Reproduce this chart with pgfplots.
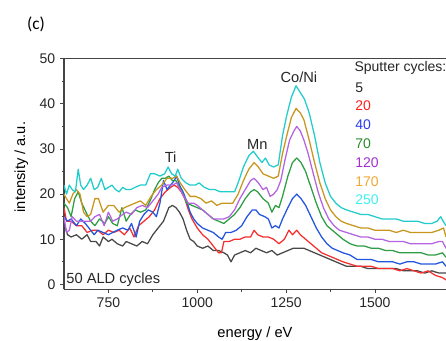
\documentclass[border=0pt]{standalone}
\usepackage{fontspec}
\setmainfont{Liberation Sans}
\newfontfamily\calibri{Carlito}
\usepackage{pgfplots}
\pgfplotsset{compat=1.18}
\definecolor{cK}{HTML}{484848}
\definecolor{cR}{HTML}{F53030}
\definecolor{cB}{HTML}{2255E0}
\definecolor{cG}{HTML}{2E9E44}
\definecolor{cP}{HTML}{B464E0}
\definecolor{cO}{HTML}{C8961E}
\definecolor{cC}{HTML}{22CCCC}
\definecolor{tR}{HTML}{FF2020}
\definecolor{tB}{HTML}{2A3AF0}
\definecolor{tG}{HTML}{2A8A2A}
\definecolor{tP}{HTML}{A030D0}
\definecolor{tO}{HTML}{F0A830}
\definecolor{tC}{HTML}{40F0F0}
\definecolor{axc}{HTML}{444444}
\begin{document}
\begin{tikzpicture}
\path[use as bounding box] (-48pt,-38pt) rectangle (286.5pt,217pt);
\clip (-48pt,-38pt) rectangle (286.5pt,217pt);
\begin{axis}[
  at={(0,0)}, anchor=south west,
  width=286.5pt, height=172.95pt, scale only axis,
  xmin=625, xmax=1700, ymin=-1.1, ymax=50,
  axis x line*=box, axis y line*=left,
  axis line style={axc, line width=0.8pt},
  xtick={750,1000,1250,1500}, minor x tick num=1,
  ytick={0,10,20,30,40,50}, minor y tick num=1,
  xtick pos=left, ytick pos=left,
  tick align=outside,
  major tick length=3pt, minor tick length=1.8pt,
  every tick/.style={axc, line width=0.6pt},
  tick label style={font=\fontsize{10.5}{12}\selectfont, text=black!85},
  /pgf/number format/assume math mode=true,
  /pgf/number format/1000 sep={},
  every axis y label/.style={at={(axis description cs:-0.102,0.53)}, anchor=base, rotate=90, font=\fontsize{11}{13}\selectfont},
  every axis x label/.style={at={(axis description cs:0.5,-0.21)}, anchor=base, font=\fontsize{11}{13}\selectfont},
  xlabel={energy / eV}, ylabel={intensity / a.u.},
  clip=true,
  every axis plot/.append style={line width=0.95pt, line join=round},
]
% 5
\addplot[cK] coordinates {(625,13.5)(635,11)(645,10.5)(660,11)(675,10)(690,11)(700,9.5)(715,9.5)(725,8.5)(735,10.5)(750,9.5)(760,10)(775,9)(790,8.5)(800,9.5)(815,9)(830,8.5)(845,9.5)(860,9)(875,11)(890,12.5)(905,14)(920,17)(930,17.5)(940,17)(950,16)(960,14.5)(970,12)(980,10)(990,9.5)(1000,8.5)(1015,8)(1030,8.5)(1045,7.5)(1060,7.5)(1075,7)(1085,6.5)(1095,5)(1105,6.5)(1120,7)(1135,7.5)(1150,7)(1165,8)(1180,7.5)(1195,7)(1210,7.5)(1225,6.5)(1240,7)(1255,7.5)(1270,8)(1285,8)(1300,8)(1315,7.5)(1330,7)(1345,6.5)(1360,6)(1375,5.5)(1390,5)(1405,4.5)(1420,4)(1440,4)(1460,4)(1480,3.5)(1500,3.5)(1520,3.5)(1540,3.5)(1560,3.5)(1580,3)(1600,3)(1620,3)(1640,2.5)(1660,3)(1680,2.5)(1700,2.5)};
% 20
\addplot[cR] coordinates {(625,17)(632,14)(645,14)(660,13)(675,13)(690,11.5)(705,12)(720,12)(735,11)(750,12)(765,11.5)(780,12)(795,11)(810,12.5)(822,10.5)(835,13)(850,14)(865,15)(880,16.5)(895,19)(910,20.5)(925,21.5)(935,22)(945,21.5)(955,20.5)(965,19)(975,16.5)(985,14.5)(1000,12.5)(1015,11)(1030,10)(1045,8.5)(1060,7)(1068,7)(1075,9.5)(1090,9.5)(1105,10)(1120,10)(1135,10.5)(1150,10.5)(1160,12)(1170,11)(1185,10.5)(1200,10.5)(1215,10)(1230,9)(1245,10)(1258,12)(1268,11)(1280,12)(1290,11)(1305,10)(1320,9)(1335,8)(1350,7)(1365,6.5)(1380,6)(1395,5.5)(1410,5)(1430,4.5)(1450,4)(1470,4)(1490,4)(1510,3.5)(1530,3.5)(1550,3.5)(1570,3)(1590,3.5)(1610,3)(1630,2.5)(1650,3)(1670,2)(1690,1.5)(1700,1)};
% 40
\addplot[cB] coordinates {(625,15)(635,14)(645,14.5)(660,13)(672,14.5)(685,13.5)(700,12)(710,11)(720,12)(735,11.5)(750,11)(762,11.5)(775,12)(790,12.5)(805,12)(815,13.5)(828,10.5)(838,14)(850,15.5)(862,16.5)(875,16)(885,15)(895,18)(905,23)(915,21)(925,22)(935,23)(942,24)(950,22)(960,20.5)(970,18.5)(980,16)(990,14.5)(1000,13.5)(1015,12.5)(1030,12)(1045,11.5)(1060,10.5)(1070,10)(1080,11.5)(1095,11.5)(1110,12)(1125,13)(1140,15)(1155,16.5)(1165,16.5)(1175,15.5)(1190,15)(1200,14.5)(1210,12.5)(1220,13)(1230,12.5)(1240,14.5)(1255,17)(1268,19)(1280,20)(1292,19)(1305,17.5)(1320,15)(1335,12.5)(1350,10.5)(1365,9)(1380,8)(1395,7.5)(1410,7)(1430,6.5)(1450,5.5)(1470,5.5)(1490,5.5)(1510,5)(1530,5)(1550,5)(1570,4.5)(1590,5)(1610,5)(1630,4.5)(1650,4.5)(1670,4.5)(1690,5)(1700,4)};
% 70
\addplot[cG] coordinates {(625,18)(635,17)(645,15)(655,19)(665,20.5)(675,18)(690,15.5)(700,14)(712,13)(725,14.5)(740,13.5)(750,15)(762,13.5)(775,13)(788,17)(800,14)(812,15.5)(825,16.5)(840,16)(855,16.5)(870,19)(880,21)(890,22.5)(900,23.5)(910,23.5)(920,24)(930,23)(940,23)(950,21.5)(960,20)(970,18)(985,17.5)(1000,17)(1015,16.5)(1030,15.5)(1045,14.5)(1060,14)(1075,13.5)(1090,14.5)(1105,15.5)(1120,17)(1135,19)(1150,20.5)(1160,21)(1170,20.5)(1185,19)(1200,18)(1210,16)(1220,17.5)(1230,17)(1240,19.5)(1255,24)(1268,27)(1280,28)(1292,27)(1305,25)(1320,21.5)(1335,18)(1350,15)(1365,13)(1380,12)(1395,11)(1410,10)(1430,9)(1450,8.5)(1470,8.5)(1490,8)(1510,8)(1530,7.5)(1550,7.5)(1570,7)(1590,7)(1610,7)(1630,7)(1650,6.5)(1670,6.5)(1690,7)(1700,6)};
% 120
\addplot[cP] coordinates {(625,15)(632,11.5)(640,12)(648,15)(660,14)(675,14)(690,14)(700,14)(712,15)(725,15.5)(738,13)(750,16)(762,14)(775,14.5)(790,15.5)(800,16)(815,15.5)(830,17)(845,17.5)(860,17)(875,18.5)(890,20)(900,21.5)(915,22)(930,22)(942,22.5)(952,21)(962,19.5)(975,18)(990,18)(1000,17.5)(1015,16.5)(1030,15.5)(1045,14.5)(1060,14.5)(1075,14.5)(1090,15)(1105,16.5)(1120,19)(1135,21)(1150,23)(1160,23.5)(1172,22.5)(1185,21)(1195,21.5)(1205,19.5)(1215,20)(1225,21)(1235,23)(1248,28)(1260,32)(1272,34)(1280,35)(1290,34)(1300,32)(1312,29)(1325,25)(1340,20.5)(1355,17)(1370,14.5)(1385,13)(1400,12)(1420,11.5)(1440,11)(1460,10.5)(1480,10.5)(1500,10)(1520,10)(1540,9.5)(1560,9.5)(1580,9.5)(1600,9)(1620,9)(1640,9)(1660,9)(1680,9.5)(1690,9.5)(1700,8)};
% 170
\addplot[cO] coordinates {(625,20)(632,19)(640,18)(650,20)(660,21)(670,20)(680,16)(690,15)(700,15.5)(712,19)(722,19)(735,16)(750,17.5)(765,17.5)(780,16)(795,17)(810,17.5)(825,18)(840,18.5)(855,17.5)(870,19.5)(885,21)(900,22)(915,23.5)(930,23.5)(942,24)(952,22.5)(965,21)(980,19.5)(995,19.5)(1010,19)(1025,18)(1040,18.5)(1055,17.5)(1070,18)(1085,18)(1100,18)(1115,20)(1130,23)(1145,25.5)(1160,27)(1172,26)(1185,24.5)(1200,24)(1215,23.5)(1228,24)(1240,29)(1252,33)(1265,37)(1278,39)(1290,38)(1300,36.5)(1315,32)(1330,27)(1345,22.5)(1360,19)(1375,16.5)(1390,15)(1405,14)(1420,13.5)(1440,13)(1460,12.5)(1480,12.5)(1500,12)(1520,12)(1540,12)(1560,11.5)(1580,12)(1600,11.5)(1620,11.5)(1640,11.5)(1660,11.5)(1680,12)(1693,12.5)(1700,10.5)};
% 250
\addplot[cC] coordinates {(625,22)(632,20)(640,22)(648,21)(657,20.5)(665,25.5)(672,22)(680,21)(690,22)(700,23.5)(710,21)(720,21.5)(730,23.5)(740,21)(750,21.5)(760,22)(770,21)(780,20.5)(790,21.5)(800,21)(812,21)(825,21.5)(840,22)(855,22)(868,24.5)(880,24.5)(895,24)(908,24.5)(918,26)(928,24.5)(938,24)(945,25.5)(955,23.5)(968,22.5)(980,22)(995,22)(1005,22.5)(1020,21.5)(1035,21)(1050,21)(1065,20.5)(1080,20.5)(1095,20.5)(1105,20.5)(1115,22.5)(1130,26)(1145,28.5)(1158,29.5)(1172,28)(1182,27)(1192,28)(1202,26.5)(1215,26)(1228,26.5)(1240,33)(1252,37.5)(1265,41.5)(1278,44)(1290,42.5)(1302,41)(1315,38)(1330,33)(1345,27)(1360,22.5)(1375,19.5)(1390,18)(1405,17)(1420,16.5)(1440,16)(1460,15.5)(1480,15.5)(1500,15)(1520,14.5)(1540,14.5)(1560,14.5)(1580,14)(1600,14)(1620,14)(1640,13.5)(1660,13.5)(1675,14)(1685,15)(1692,14)(1700,13)};
% annotations
\node[font=\fontsize{11}{13}\selectfont, text=black!85] at (axis cs:925,28.1) {Ti};
\node[font=\fontsize{11}{13}\selectfont, text=black!85] at (axis cs:1169,31) {Mn};
\node[font=\fontsize{11}{13}\selectfont, text=black!85] at (axis cs:1286,45.9) {Co/Ni};
\node[font=\fontsize{11}{13}\selectfont, text=black!85, anchor=west, inner sep=0pt] at (axis cs:631,1.1) {50 ALD cycles};
\begin{scope}[every node/.style={font=\fontsize{10.5}{12.5}\selectfont, anchor=west, inner sep=0pt}]
\node[text=black!85] at (axis cs:1442,47.9) {Sputter cycles:};
\node[text=black!85] at (axis cs:1444,43.6) {5};
\node[text=tR] at (axis cs:1444,39.5) {20};
\node[text=tB] at (axis cs:1444,35.3) {40};
\node[text=tG] at (axis cs:1444,31.1) {70};
\node[text=tP] at (axis cs:1444,27.0) {120};
\node[text=tO] at (axis cs:1444,22.8) {170};
\node[text=tC] at (axis cs:1444,18.7) {250};
\end{scope}
\end{axis}
\node[font=\calibri\fontsize{13}{15}\selectfont] at (-21pt,199pt) {(c)};
\end{tikzpicture}
\end{document}
